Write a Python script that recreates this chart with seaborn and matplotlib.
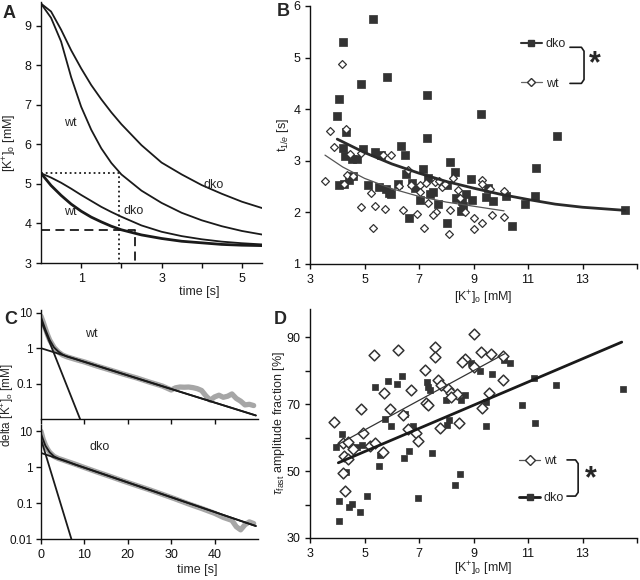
import numpy as np
import pandas as pd
import matplotlib
matplotlib.use('Agg')
import matplotlib.pyplot as plt
import seaborn as sns
from matplotlib.lines import Line2D

# ---- panel A: [K+]o decay curves
t_a = [0, 0.25, 0.5, 0.75, 1, 1.25, 1.5, 1.75, 2, 2.5, 3, 3.5, 4, 4.5, 5, 5.5]
wt_high = [9.56, 9.20, 8.60, 7.70, 6.95, 6.37, 5.90, 5.53, 5.24, 4.83, 4.52, 4.27, 4.08, 3.93, 3.81, 3.72]
dko_high = [9.56, 9.36, 8.90, 8.38, 7.92, 7.50, 7.14, 6.81, 6.51, 5.98, 5.54, 5.24, 4.97, 4.75, 4.55, 4.39]
dko_low = [5.27, 5.16, 5.03, 4.88, 4.72, 4.57, 4.42, 4.29, 4.17, 3.95, 3.79, 3.68, 3.60, 3.54, 3.50, 3.47]
wt_low = [5.27, 4.96, 4.71, 4.49, 4.31, 4.16, 4.04, 3.93, 3.84, 3.71, 3.62, 3.55, 3.51, 3.47, 3.45, 3.44]
dotted_level, dotted_time = 5.27, 1.94
dashed_level, dashed_time = 3.84, 2.34

# ---- panel B: t1/e vs [K+]o
b_dko_k = [5.32, 4.20, 5.81, 4.86, 7.31, 4.06, 3.99, 9.26, 4.33, 7.28, 12.07, 6.35, 4.21, 4.93, 5.38,
           5.60, 6.49, 4.29, 4.53, 4.73, 8.13, 11.30, 7.15, 6.52, 8.31, 7.33, 8.90, 4.06, 4.26, 4.44,
           4.56, 5.14, 6.24, 6.76, 8.01, 9.53, 5.53, 5.78, 5.99, 5.90, 6.85, 7.40, 7.50, 8.74, 9.47,
           10.18, 8.37, 8.56, 7.03, 8.96, 9.72, 11.27, 7.68, 8.63, 10.88, 8.53, 6.65, 8.01, 10.41, 14.55]
b_dko_t = [5.75, 5.30, 4.63, 4.49, 4.27, 4.19, 3.87, 3.90, 3.55, 3.44, 3.49, 3.29, 3.25, 3.23, 3.17,
           3.11, 3.11, 3.09, 3.04, 3.03, 2.97, 2.87, 2.84, 2.75, 2.78, 2.66, 2.64, 2.53, 2.55, 2.62,
           2.70, 2.54, 2.56, 2.57, 2.54, 2.47, 2.49, 2.46, 2.36, 2.38, 2.47, 2.36, 2.40, 2.35, 2.30,
           2.32, 2.27, 2.23, 2.24, 2.25, 2.22, 2.32, 2.17, 2.13, 2.16, 2.02, 1.89, 1.79, 1.73, 2.04]
b_wt_k = [4.18, 3.72, 4.31, 3.55, 3.89, 4.47, 4.86, 5.97, 5.69, 6.60, 4.26, 4.37, 4.59, 6.26, 5.23,
          4.86, 5.39, 5.75, 6.42, 6.93, 5.32, 6.72, 7.03, 7.27, 7.58, 7.74, 7.85, 7.03, 7.33, 7.62,
          7.52, 8.13, 7.19, 8.10, 8.23, 8.43, 8.49, 8.70, 9.02, 9.31, 9.02, 9.31, 9.32, 9.59, 9.68,
          10.11, 10.12, 7.95]
b_wt_t = [4.87, 3.58, 3.62, 2.60, 3.27, 3.14, 3.16, 3.11, 3.11, 2.83, 2.56, 2.72, 2.71, 2.52, 2.37,
          2.10, 2.13, 2.06, 2.05, 1.97, 1.69, 2.54, 2.54, 2.57, 2.58, 2.60, 2.49, 2.40, 2.19, 2.01,
          1.94, 2.05, 1.70, 1.58, 2.66, 2.43, 2.28, 2.01, 1.89, 1.79, 1.68, 2.63, 2.56, 2.46, 1.95,
          2.42, 1.91, 2.55]
b_fit_dko_k = [4.0, 5.0, 6.0, 7.0, 8.0, 9.0, 10.0, 11.0, 12.0, 13.0, 14.55]
b_fit_dko_t = [3.42, 3.16, 2.94, 2.76, 2.60, 2.47, 2.35, 2.25, 2.16, 2.10, 2.04]
b_fit_wt_k = [3.55, 4.2, 5.0, 6.0, 7.0, 8.0, 9.0, 10.12]
b_fit_wt_t = [3.11, 2.88, 2.66, 2.46, 2.31, 2.20, 2.12, 2.03]

# ---- panel C: delta [K+]o on log scale
c_wt_time = [0, 0.5, 1, 1.5, 2, 3, 4, 5, 6, 8, 10, 13, 16, 19, 22, 25, 28, 29, 30, 31, 32, 33, 34, 35,
             36, 37, 38, 39, 40, 41, 42, 43, 44, 45, 46, 47, 48, 49]
c_wt_val = [8.0, 5.5, 3.6, 2.4, 1.7, 1.05, 0.78, 0.64, 0.57, 0.48, 0.41, 0.31, 0.24, 0.185, 0.145, 0.11,
            0.085, 0.075, 0.066, 0.076, 0.08, 0.079, 0.08, 0.077, 0.072, 0.064, 0.045, 0.034, 0.042, 0.047,
            0.041, 0.044, 0.051, 0.038, 0.032, 0.025, 0.026, 0.024]
c_wt_fit_time = [0, 1, 2, 3, 4, 5, 6, 8, 10, 49.5]
c_wt_fit_val = [7.5, 3.4, 1.7, 1.05, 0.8, 0.66, 0.58, 0.49, 0.41, 0.0126]
c_wt_fast_time, c_wt_fast_val = [0, 9.0], [6.0, 0.01]
c_wt_slow_time, c_wt_slow_val = [0, 49.5], [1.0, 0.0126]

c_dko_time = [0, 0.5, 1, 1.5, 2, 3, 4, 5, 6, 8, 10, 13, 16, 19, 22, 25, 28, 31, 34, 37, 40, 42, 44,
              45, 46, 47, 48, 49]
c_dko_val = [10.0, 6.0, 4.2, 3.2, 2.6, 2.0, 1.75, 1.6, 1.45, 1.2, 0.98, 0.73, 0.55, 0.41, 0.31, 0.235,
             0.175, 0.13, 0.095, 0.071, 0.052, 0.04, 0.033, 0.022, 0.018, 0.025, 0.03, 0.027]
c_dko_fit_time = [0, 1, 2, 3, 4, 5, 6, 8, 10, 49.5]
c_dko_fit_val = [8.5, 4.0, 2.6, 2.0, 1.75, 1.6, 1.45, 1.17, 0.97, 0.023]
c_dko_fast_time, c_dko_fast_val = [0, 7.0], [6.0, 0.01]
c_dko_slow_time, c_dko_slow_val = [0, 49.5], [2.5, 0.023]

# ---- panel D: tau_fast amplitude fraction vs [K+]o
d_wt_k = [9.01, 7.58, 6.23, 5.34, 7.58, 9.29, 9.66, 10.08, 8.70, 8.58, 9.01, 7.21, 7.70, 7.82, 8.07,
          8.16, 8.41, 8.19, 6.72, 5.72, 10.08, 9.57, 7.27, 7.33, 9.31, 5.93, 4.87, 6.42, 3.89, 8.47,
          7.76, 6.60, 6.90, 4.93, 6.97, 4.20, 4.40, 5.20, 5.38, 4.59, 5.68, 4.25, 4.40, 4.20, 4.28]
d_wt_f = [91.1, 87.1, 86.3, 84.6, 84.1, 85.6, 85.1, 84.4, 83.4, 82.6, 81.1, 80.4, 77.2, 75.9, 74.7,
          73.5, 73.2, 72.2, 74.2, 73.4, 77.2, 73.4, 70.4, 69.7, 69.0, 68.5, 68.5, 66.7, 64.7, 64.5,
          62.9, 62.7, 61.3, 61.3, 59.0, 58.4, 58.7, 57.6, 58.3, 56.5, 55.8, 54.6, 53.6, 49.3, 44.1]
d_dko_k = [8.92, 10.35, 10.12, 9.23, 9.69, 11.22, 12.01, 14.48, 6.36, 5.87, 6.20, 5.38, 7.30, 7.33,
           7.42, 8.70, 8.53, 7.98, 9.47, 10.79, 11.24, 5.76, 6.48, 5.97, 6.78, 8.01, 8.09, 9.45, 4.18,
           3.96, 4.89, 4.71, 5.56, 6.64, 6.45, 7.46, 5.53, 4.32, 8.52, 8.32, 4.06, 4.53, 4.42, 5.08,
           4.84, 6.97, 4.07]
d_dko_f = [82.3, 82.3, 83.1, 79.9, 79.0, 78.0, 75.7, 74.5, 78.6, 77.0, 76.1, 75.3, 76.6, 75.3, 74.4,
           72.7, 71.2, 71.2, 70.6, 69.7, 64.4, 65.7, 67.2, 63.6, 63.6, 63.7, 65.2, 63.6, 61.0, 57.3,
           57.8, 57.1, 54.9, 56.0, 54.0, 55.3, 51.5, 49.8, 49.0, 46.0, 41.0, 40.1, 39.3, 42.6, 37.7,
           41.9, 35.2]
d_fit_wt_k, d_fit_wt_f = [3.92, 10.14], [57.5, 85.1]
d_fit_dko_k, d_fit_dko_f = [4.04, 14.44], [52.5, 88.6]

# ---- style
sns.set_style('ticks')
plt.rcParams['font.family'] = ['Liberation Sans', 'DejaVu Sans']
plt.rcParams['mathtext.fontset'] = 'custom'
plt.rcParams['mathtext.rm'] = 'Liberation Sans'
plt.rcParams['mathtext.it'] = 'Liberation Sans:italic'
plt.rcParams['mathtext.bf'] = 'Liberation Sans:bold'
plt.rcParams['font.size'] = 9
plt.rcParams['axes.linewidth'] = 1.0
plt.rcParams['axes.edgecolor'] = '#111111'
for ax_ in ('xtick', 'ytick'):
    plt.rcParams[ax_ + '.major.width'] = 1.0
    plt.rcParams[ax_ + '.major.size'] = 3.5
    plt.rcParams[ax_ + '.color'] = '#111111'
    plt.rcParams[ax_ + '.labelsize'] = 9

DARK = '#1a1a1a'
SQ = '#333333'
KO = r'[K$^{+}$]$_{\rm o}$ [mM]'

fig = plt.figure(figsize=(6.4, 5.8), dpi=100)
W, H = 640.0, 580.0


def box(left, top, right, bottom):
    return [left / W, 1 - bottom / H, (right - left) / W, (bottom - top) / H]


# ================= A
axA = fig.add_axes(box(41, 2, 262, 263))
sns.lineplot(x=t_a, y=dko_high, ax=axA, color=DARK, lw=1.3)
sns.lineplot(x=t_a, y=wt_high, ax=axA, color=DARK, lw=1.3)
sns.lineplot(x=t_a, y=dko_low, ax=axA, color=DARK, lw=1.3)
sns.lineplot(x=t_a, y=wt_low, ax=axA, color=DARK, lw=2.0)
axA.plot([0, dotted_time, dotted_time], [dotted_level, dotted_level, 3], ls=':', color=DARK, lw=1.3)
axA.plot([0, dashed_time, dashed_time], [dashed_level, dashed_level, 3], ls=(0, (5, 3)), color=DARK, lw=1.3)
axA.set_xlim(0, 5.5)
axA.set_ylim(3, 9.6)
axA.set_xticks([1, 2, 3, 4, 5])
axA.set_xticklabels(['1', '', '3', '', '5'])
axA.set_yticks(range(3, 10))
axA.set_xlabel('time [s]', fontsize=9)
axA.xaxis.set_label_coords(0.715, -0.09)
axA.set_ylabel(KO, fontsize=9)
axA.yaxis.set_label_coords(-0.1, 0.46)
txt = dict(fontsize=9, ha='center', va='center')
axA.text(0.72, 6.55, 'wt', **txt)
axA.text(4.3, 4.96, 'dko', **txt)
axA.text(0.72, 4.28, 'wt', **txt)
axA.text(2.3, 4.31, 'dko', **txt)
sns.despine(ax=axA)

# ================= B
axB = fig.add_axes(box(310, 6, 637, 264))
sns.scatterplot(x=b_dko_k, y=b_dko_t, ax=axB, marker='s', s=26, color=SQ, edgecolor=SQ, linewidth=0.5, zorder=3)
sns.scatterplot(x=b_wt_k, y=b_wt_t, ax=axB, marker='D', s=16, facecolor='white', edgecolor=SQ, linewidth=0.9, zorder=3)
sns.lineplot(x=b_fit_dko_k, y=b_fit_dko_t, ax=axB, color='#2a2a2a', lw=2.0, zorder=4)
sns.lineplot(x=b_fit_wt_k, y=b_fit_wt_t, ax=axB, color='#555555', lw=0.9, zorder=4)
axB.set_xlim(3, 15)
axB.set_ylim(1, 6)
axB.set_xticks([3, 5, 7, 9, 11, 13, 15])
axB.set_xticklabels(['3', '5', '7', '9', '11', '13', ''])
axB.set_yticks(range(1, 7))
axB.set_xlabel(KO, fontsize=9)
axB.xaxis.set_label_coords(0.529, -0.095)
axB.set_ylabel(r't$_{1/e}$ [s]', fontsize=9)
axB.yaxis.set_label_coords(-0.058, 0.5)
hB = [Line2D([], [], color=SQ, lw=1.5, marker='s', ms=5, mfc=SQ, mec=SQ),
      Line2D([], [], color='#666666', lw=0.9, marker='D', ms=4, mfc='white', mec=SQ)]
axB.legend(hB, ['dko', 'wt'], loc='upper left', bbox_to_anchor=(0.625, 0.9), frameon=False,
           handlelength=1.7, handletextpad=0.3, labelspacing=2.2, fontsize=9, borderpad=0)
axB.plot([0.795, 0.83, 0.838, 0.838, 0.83, 0.795], [0.840, 0.840, 0.825, 0.715, 0.700, 0.700],
         transform=axB.transAxes, color=DARK, lw=1.2, clip_on=False)
axB.text(0.872, 0.775, '*', transform=axB.transAxes, fontsize=22, fontweight='bold', ha='center', va='center')
sns.despine(ax=axB)

# ================= C
axC1 = fig.add_axes(box(41, 310, 258, 419))
axC2 = fig.add_axes(box(41, 425, 258, 539))
for ax, tt, vv, ft, fv, qt, qv, st, sv, top, lab, lab_t, lab_v in [
        (axC1, c_wt_time, c_wt_val, c_wt_fit_time, c_wt_fit_val, c_wt_fast_time, c_wt_fast_val,
         c_wt_slow_time, c_wt_slow_val, 12, 'wt', 11.7, 2.6),
        (axC2, c_dko_time, c_dko_val, c_dko_fit_time, c_dko_fit_val, c_dko_fast_time, c_dko_fast_val,
         c_dko_slow_time, c_dko_slow_val, 15, 'dko', 13.6, 3.6)]:
    sns.lineplot(x=tt, y=vv, ax=ax, color='#a6a6a6', lw=3.8, solid_capstyle='round')
    sns.lineplot(x=ft, y=fv, ax=ax, color=DARK, lw=1.3)
    sns.lineplot(x=qt, y=qv, ax=ax, color=DARK, lw=1.3)
    sns.lineplot(x=st, y=sv, ax=ax, color=DARK, lw=1.3)
    ax.set_yscale('log')
    ax.set_xlim(0, 50)
    ax.set_ylim(0.01, top)
    ax.set_xticks([0, 10, 20, 30, 40])
    ax.minorticks_off()
    ax.tick_params(axis='y', labelsize=8.5, pad=2.5)
    ax.text(lab_t, lab_v, lab, **txt)
    sns.despine(ax=ax)
axC1.set_yticks([10, 1, 0.1])
axC1.set_yticklabels(['10', '1', '0.1'])
axC1.set_xticklabels([])
axC2.set_yticks([10, 1, 0.1, 0.01])
axC2.set_yticklabels(['10', '1', '0.1', '0.01'])
axC2.set_xticklabels(['0', '10', '20', '30', '40'])
axC2.set_xlabel('time [s]', fontsize=9)
axC2.xaxis.set_label_coords(0.719, -0.22)
fig.text(7.5 / W, 1 - 405 / H, r'delta [K$^{+}$]$_{\rm o}$ [mM]', rotation=90, ha='center', va='center', fontsize=8.5)

# ================= D
axD = fig.add_axes(box(310, 309, 637, 538))
sns.scatterplot(x=d_dko_k, y=d_dko_f, ax=axD, marker='s', s=24, color=SQ, edgecolor=SQ, linewidth=0.5, zorder=3)
sns.scatterplot(x=d_wt_k, y=d_wt_f, ax=axD, marker='D', s=30, facecolor='white', edgecolor=SQ, linewidth=1.1, zorder=3)
sns.lineplot(x=d_fit_dko_k, y=d_fit_dko_f, ax=axD, color=DARK, lw=2.0, zorder=4)
sns.lineplot(x=d_fit_wt_k, y=d_fit_wt_f, ax=axD, color='#333333', lw=0.9, zorder=4)
axD.set_xlim(3, 15)
axD.set_ylim(30, 98.5)
axD.set_xticks([3, 5, 7, 9, 11, 13, 15])
axD.set_xticklabels(['3', '5', '7', '9', '11', '13', ''])
axD.set_yticks(range(30, 100, 10))
axD.set_yticklabels(['30', '', '50', '', '70', '', '90'])
axD.set_xlabel(KO, fontsize=9)
axD.xaxis.set_label_coords(0.529, -0.095)
axD.set_ylabel(r'$\tau_{\rm fast}$ amplitude fraction [%]', fontsize=9)
axD.yaxis.set_label_coords(-0.07, 0.5)
hD = [Line2D([], [], color='#555555', lw=0.9, marker='D', ms=5, mfc='white', mec=SQ),
      Line2D([], [], color=DARK, lw=2.0, marker='s', ms=5, mfc=SQ, mec=SQ)]
axD.legend(hD, ['wt', 'dko'], loc='upper left', bbox_to_anchor=(0.62, 0.39), frameon=False,
           handlelength=1.7, handletextpad=0.3, labelspacing=2.0, fontsize=9, borderpad=0)
axD.plot([0.786, 0.812, 0.820, 0.820, 0.812, 0.786], [0.341, 0.341, 0.325, 0.199, 0.183, 0.183],
         transform=axD.transAxes, color=DARK, lw=1.2, clip_on=False)
axD.text(0.859, 0.255, '*', transform=axD.transAxes, fontsize=22, fontweight='bold', ha='center', va='center')
sns.despine(ax=axD)

# panel letters
for letter, (px, py) in zip('ABCD', [(9, 13), (283, 12), (11, 320), (280, 320)]):
    fig.text(px / W, 1 - py / H, letter, fontsize=13, fontweight='bold', ha='center', va='center')

fig.savefig('out.png', dpi=100)
